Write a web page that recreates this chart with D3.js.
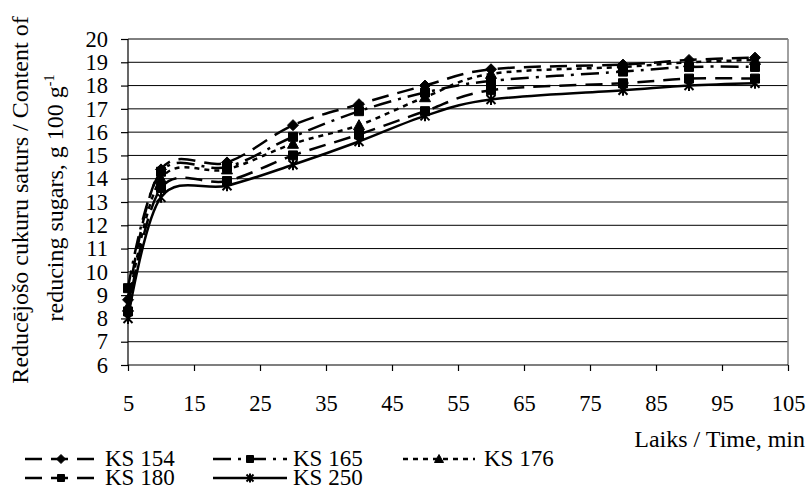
<!DOCTYPE html>
<html lang="lv">
<head>
    <meta charset="UTF-8">
    <title>Reducing sugars</title>
    <style>
        body { margin: 0; background: #fff; }
        text { font-family: "Liberation Serif", "Times New Roman", serif; fill: #000; }
        .grid line { stroke: #000; stroke-width: 1px; }
        .series { fill: none; stroke: #000; stroke-width: 2.5px; }
    </style>
</head>
<body>
    <script src="https://d3js.org/d3.v7.min.js"></script>
    <script>
        var width = 809;
        var height = 489;

        // data
        var times = [5, 10, 20, 30, 40, 50, 60, 80, 90, 100];
        var seriesNames = ["KS 154", "KS 165", "KS 176", "KS 180", "KS 250"];
        var ks154 = [8.8, 14.4, 14.7, 16.3, 17.2, 18.0, 18.7, 18.9, 19.1, 19.2];
        var ks165 = [9.3, 14.3, 14.5, 15.8, 16.9, 17.7, 18.2, 18.6, 18.8, 18.8];
        var ks176 = [8.5, 14.0, 14.4, 15.5, 16.3, 17.5, 18.5, 18.8, 19.0, 19.1];
        var ks180 = [8.3, 13.6, 13.9, 15.0, 15.9, 16.9, 17.8, 18.1, 18.3, 18.3];
        var ks250 = [8.0, 13.2, 13.7, 14.6, 15.6, 16.7, 17.4, 17.8, 18.0, 18.1];
        var xTicks = [5, 15, 25, 35, 45, 55, 65, 75, 85, 95, 105];
        var yTicks = [6, 7, 8, 9, 10, 11, 12, 13, 14, 15, 16, 17, 18, 19, 20];

        var allValues = [ks154, ks165, ks176, ks180, ks250];
        var dashes = ["17,9", "18,7,3,7", "5,5", "17,9", null];
        var markers = ["diamond", "square", "triangle", "square", "star"];

        var x = d3.scaleLinear().domain([5, 105]).range([128, 788]);
        var y = d3.scaleLinear().domain([6, 20]).range([365, 39]);

        var svg = d3.select("body").append("svg")
            .attr("width", width)
            .attr("height", height);

        // horizontal grid
        svg.append("g").attr("class", "grid")
            .selectAll("line")
            .data(yTicks.slice(1))
            .enter().append("line")
            .attr("x1", x(5)).attr("x2", x(105))
            .attr("y1", function(d) { return y(d); })
            .attr("y2", function(d) { return y(d); });

        // plot border right
        svg.append("line")
            .attr("x1", x(105)).attr("x2", x(105))
            .attr("y1", y(20)).attr("y2", y(6))
            .attr("stroke", "#808080").attr("stroke-width", 1.5);

        // axes
        var yAxis = d3.axisLeft(y).tickValues(yTicks).tickSize(7).tickPadding(13);
        var gy = svg.append("g").attr("transform", "translate(" + x(5) + ",0)").call(yAxis);
        var xAxis = d3.axisBottom(x).tickValues(xTicks).tickSize(6).tickPadding(24);
        var gx = svg.append("g").attr("transform", "translate(0," + y(6) + ")").call(xAxis);
        [gx, gy].forEach(function(g) {
            g.selectAll("path, line").attr("stroke", "#000").attr("stroke-width", 1.2);
            g.selectAll("text").style("font-size", "22.5px")
                .style("font-family", '"Liberation Serif", serif');
        });
        gy.select(".domain").attr("d", "M0," + y(20) + "V" + y(6));
        gx.select(".domain").attr("d", "M" + x(5) + ",0H" + x(105));

        // axis titles
        svg.append("text")
            .attr("transform", "translate(28,200) rotate(-90)")
            .attr("text-anchor", "middle")
            .style("font-size", "24px")
            .text("Reducējošo cukuru saturs / Content of");

        var t2 = svg.append("text")
            .attr("transform", "translate(63,198) rotate(-90)")
            .attr("text-anchor", "middle")
            .style("font-size", "24px");
        t2.append("tspan").text("reducing sugars, g 100 g");
        t2.append("tspan").attr("dy", "-9").style("font-size", "14px").text("-1");

        svg.append("text")
            .attr("x", 805).attr("y", 447)
            .attr("text-anchor", "end")
            .style("font-size", "24px")
            .text("Laiks / Time, min");

        // marker paths
        function markerPath(kind, s) {
            var h = s / 2;
            if (kind === "diamond") return "M0," + (-h - 1) + "L" + (h + 1) + ",0L0," + (h + 1) + "L" + (-h - 1) + ",0Z";
            if (kind === "square") return "M" + (-h) + "," + (-h) + "h" + s + "v" + s + "h" + (-s) + "Z";
            if (kind === "triangle") return "M0," + (-h - 1) + "L" + (h + 1) + "," + h + "L" + (-h - 1) + "," + h + "Z";
            return "M" + (-h) + "," + (-h) + "L" + h + "," + h + "M" + h + "," + (-h) + "L" + (-h) + "," + h + "M0," + (-h - 1) + "V" + (h + 1);
        }

        var line = d3.line()
            .x(function(d) { return x(d.t); })
            .y(function(d) { return y(d.v); })
            .curve(d3.curveCatmullRom.alpha(0));

        allValues.forEach(function(vals, i) {
            var pts = times.map(function(t, j) { return { t: t, v: vals[j] }; });
            svg.append("path")
                .attr("class", "series")
                .attr("d", line(pts))
                .attr("stroke-dasharray", dashes[i]);

            svg.selectAll(".m" + i)
                .data(pts)
                .enter().append("path")
                .attr("class", "m" + i)
                .attr("transform", function(d) { return "translate(" + x(d.t) + "," + y(d.v) + ")"; })
                .attr("d", markerPath(markers[i], 9))
                .attr("fill", markers[i] === "star" ? "none" : "#000")
                .attr("stroke", "#000")
                .attr("stroke-width", markers[i] === "star" ? 2 : 1);
        });

        // legend
        var legendPos = [
            { x1: 25, x2: 97, tx: 105, y: 459 },
            { x1: 213, x2: 287, tx: 293, y: 459 },
            { x1: 403, x2: 475, tx: 484, y: 459 },
            { x1: 25, x2: 97, tx: 105, y: 478 },
            { x1: 213, x2: 287, tx: 293, y: 478 }
        ];
        seriesNames.forEach(function(name, i) {
            var p = legendPos[i];
            svg.append("line")
                .attr("x1", p.x1).attr("x2", p.x2)
                .attr("y1", p.y).attr("y2", p.y)
                .attr("stroke", "#000").attr("stroke-width", 2.5)
                .attr("stroke-dasharray", dashes[i]);
            svg.append("path")
                .attr("transform", "translate(" + ((p.x1 + p.x2) / 2) + "," + p.y + ")")
                .attr("d", markerPath(markers[i], 7))
                .attr("fill", markers[i] === "star" ? "none" : "#000")
                .attr("stroke", "#000")
                .attr("stroke-width", markers[i] === "star" ? 2 : 1);
            svg.append("text")
                .attr("x", p.tx).attr("y", p.y + 7)
                .style("font-size", "23px")
                .text(name);
        });
    </script>
</body>
</html>
